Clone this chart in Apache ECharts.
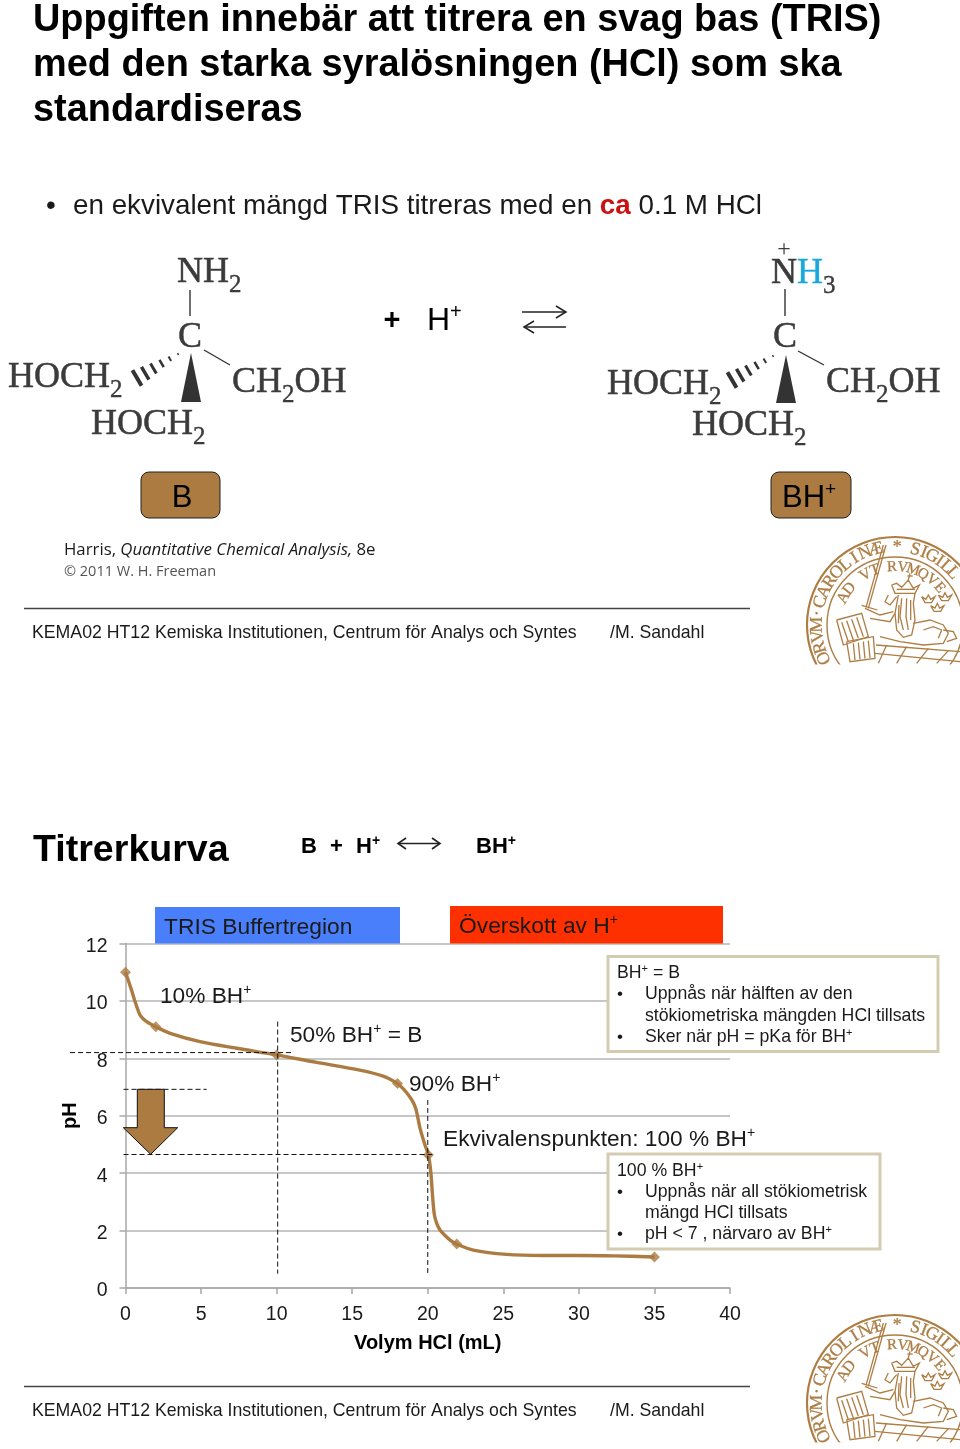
<!DOCTYPE html>
<html>
<head>
<meta charset="utf-8">
<style>
  html, body { margin: 0; padding: 0; background: #fff; }
  #chart { width: 960px; height: 1449px; }
</style>
<script src="https://cdn.jsdelivr.net/npm/echarts@6/dist/echarts.min.js"></script>
</head>
<body>
<div id="chart"></div>
<script>
// Points (mL, pH)
const curveVolume = [0, 0.36, 0.63, 0.8, 0.96, 1.15, 1.4, 1.65, 2, 3.06, 4.93, 7.36, 10, 12.64, 15.5, 17.05, 18, 18.4, 18.72, 19.0, 19.2, 19.35, 19.49, 19.78, 20.04, 20.2, 20.33, 20.44, 20.6, 20.81, 21.2, 21.5, 21.92, 23.02, 25.2, 27.6, 30, 32.3, 35];
const curvePh = [11, 10.44, 9.98, 9.72, 9.51, 9.39, 9.28, 9.2, 9.1, 8.85, 8.58, 8.35, 8.12, 7.86, 7.59, 7.38, 7.12, 6.93, 6.72, 6.5, 6.26, 5.92, 5.56, 5.04, 4.63, 4.05, 3.13, 2.54, 2.24, 2.02, 1.8, 1.66, 1.53, 1.32, 1.17, 1.13, 1.13, 1.12, 1.08];
const markerVolume = [0, 2, 10, 18, 20.04, 21.92, 35];
const markerPh = [11, 9.1, 8.12, 7.12, 4.63, 1.53, 1.08];

// Dashed helper lines, as [volume, pH] pairs
const guidePh8 = [[-3.67, 8.2], [11, 8.2]];
const guidePh7 = [[-0.13, 6.92], [5.37, 6.92]];
const guidePh46 = [[-0.13, 4.65], [20.3, 4.65]];
const guideV10 = [[10.07, 9.28], [10.07, 0.5]];
const guideV20 = [[20, 6.55], [20, 0.5]];

const TEXT = "#1a1a1a";
const BROWN = "#ab7b41";
const SEAL = "#ad7d43";
const SANS = "Liberation Sans";
const SERIF = "Liberation Serif";

const zip = (xs, ys) => xs.map((x, i) => [x, ys[i]]);

function txt(x, y, text, size, opts = {}) {
	const family = opts.family || SANS;
	const weight = opts.weight || "normal";
	const lineHeight = opts.lineHeight || Math.round(size * 1.15);
	return {
		type: "text", x, y: y + size * 0.07, z: 20, silent: true, rotation: opts.rotation || 0,
		style: {
			text, fill: opts.color || TEXT,
			stroke: opts.stroke || null, lineWidth: opts.stroke ? 0.5 : 0,
			fontSize: size, fontFamily: family, fontWeight: weight, fontStyle: opts.italic ? "italic" : "normal",
			lineHeight,
			align: opts.align || "left", verticalAlign: "middle",
			rich: Object.assign({
				sup: { fontSize: Math.round(size * 0.62), fontFamily: family, fontWeight: weight, fill: opts.color || TEXT, verticalAlign: "top", lineHeight },
			}, opts.rich || {}),
		},
	};
}

function line(x1, y1, x2, y2, color, width) {
	return { type: "line", z: 15, silent: true, shape: { x1, y1, x2, y2 }, style: { stroke: color, lineWidth: width } };
}

function poly(points, fill, stroke, width) {
	return { type: "polygon", z: 15, silent: true, shape: { points }, style: { fill, stroke: stroke || null, lineWidth: width || 0 } };
}

function pline(points, color, width) {
	return { type: "polyline", z: 15, silent: true, shape: { points }, style: { stroke: color, fill: null, lineWidth: width } };
}

function box(x, y, w, h, fill, stroke, width, r) {
	return { type: "rect", z: 12, silent: true, shape: { x, y, width: w, height: h, r: r || 0 }, style: { fill, stroke: stroke || null, lineWidth: width || 0 } };
}

// Chemistry labels: serif dark grey with subscripts
function chem(x, y, text, extraRich) {
	return txt(x, y, text, 36, {
		family: SERIF, color: "#3b3b3b", stroke: "#3b3b3b", lineHeight: 50,
		rich: Object.assign({
			sub: { fontSize: 25, fontFamily: SERIF, fill: "#3b3b3b", stroke: "#3b3b3b", lineWidth: 0.4, verticalAlign: "bottom", lineHeight: 50 },
		}, extraRich || {}),
	});
}

function hashedWedge(x1, y1, x2, y2) {
	const out = [];
	const n = 6;
	const len = Math.hypot(x2 - x1, y2 - y1);
	const nx = -(y2 - y1) / len;
	const ny = (x2 - x1) / len;
	for (let i = 0; i < n; i++) {
		const t = i / (n - 1);
		const cx = x1 + (x2 - x1) * t;
		const cy = y1 + (y2 - y1) * t;
		const h = 1 + t * 8;
		out.push(line(cx - nx * h, cy - ny * h, cx + nx * h, cy + ny * h, "#333", 1.5 + t * 2.5));
	}
	return out;
}

// Seal outlines, traced in a 3x crop of the first seal (origin 800,530)
const sealTraces = [
	[[258, 45], [205, 235]], [[250, 45], [198, 232]],
	[[185, 226], [232, 240]],
	[[275, 165], [285, 190], [345, 190], [358, 165], [340, 175], [325, 150], [305, 172], [290, 160], [275, 165]],
	[[325, 150], [330, 130]], [[322, 138], [338, 138]],
	[[290, 178], [345, 178]],
	[[265, 195], [255, 215], [270, 225], [290, 200]],
	[[295, 195], [285, 250], [290, 300], [310, 322], [335, 315], [345, 270], [340, 220], [345, 190]],
	[[305, 205], [300, 260], [310, 300]], [[320, 205], [318, 260], [325, 300]], [[332, 210], [332, 270]], [[297, 225], [295, 280]],
	[[340, 280], [390, 270], [430, 285], [445, 310], [430, 340], [370, 345], [300, 335], [240, 320]],
	[[370, 300], [400, 290], [425, 300], [415, 325]],
	[[430, 300], [460, 305], [470, 325], [440, 335]],
	[[195, 235], [240, 255], [280, 245]], [[210, 265], [270, 275], [285, 250]],
	[[110, 270], [185, 250], [205, 320], [130, 345], [110, 270]],
	[[125, 277], [145, 335]], [[140, 272], [160, 330]], [[155, 268], [175, 325]], [[170, 262], [190, 320]],
	[[140, 335], [220, 320], [225, 385], [150, 395], [140, 335]],
	[[160, 340], [165, 390]], [[175, 338], [180, 388]], [[190, 335], [195, 386]], [[205, 332], [210, 384]],
	[[228, 345], [480, 365]], [[225, 370], [480, 395]], [[260, 345], [235, 400]], [[320, 350], [290, 400]], [[385, 355], [350, 400]], [[445, 362], [410, 400]],
	[[365, 200], [375, 218], [395, 218], [405, 200], [392, 208], [385, 195], [378, 208], [365, 200]],
	[[415, 195], [425, 212], [445, 212], [455, 195], [442, 202], [435, 188], [428, 202], [415, 195]],
	[[392, 227], [402, 244], [422, 244], [432, 227], [419, 234], [412, 220], [405, 234], [392, 227]],
];

function seal(dy) {
	const cx = 895, cy = 625 + dy;
	const out = [];
	[[88, 2.2], [68, 1.4]].forEach(([r, w]) => {
		out.push({ type: "circle", z: 10, silent: true, shape: { cx, cy, r }, style: { fill: "rgba(0,0,0,0)", stroke: SEAL, lineWidth: w } });
	});
	const ring = (chars, start, step, r, size) => {
		Array.from(chars).forEach((c, i) => {
			const a = (start + step * i) * Math.PI / 180;
			out.push({
				type: "text", z: 10, silent: true,
				x: cx + r * Math.sin(a), y: cy - r * Math.cos(a), rotation: -a,
				style: { text: c, fill: SEAL, stroke: SEAL, lineWidth: 0.3, fontSize: size, fontFamily: SERIF, align: "center", verticalAlign: "middle" },
			});
		});
	};
	ring("ORVM·CAROLINÆ", -115, 8.4, 78, 18);
	ring("*", 1.5, 0, 78, 18);
	ring("SIGILL", 15, 6.6, 78, 18);
	ring("AD VT", -62, 10.5, 58, 16);
	ring("RVMQVE", -3, 10.6, 58, 15);
	sealTraces.forEach((t) => {
		const points = t.map(([x, y]) => [800 + x / 3, 530 + dy + y / 3]);
		out.push(Object.assign(pline(points, SEAL, 1.3), { z: 10 }));
	});
	out.push(Object.assign(box(800, 664.5 + dy, 160, 60, "#fff"), { z: 11 }));
	return out;
}

const elements = [
	// header
	txt(33, 18, "Uppgiften innebär att titrera en svag bas (TRIS)", 37.9, { weight: "bold", color: "#000" }),
	txt(33, 63, "med den starka syralösningen (HCl) som ska", 37.9, { weight: "bold", color: "#000" }),
	txt(33, 108, "standardiseras", 37.9, { weight: "bold", color: "#000" }),
	txt(46, 204, "•", 28),
	txt(73, 204, "en ekvivalent mängd TRIS titreras med en {r|ca} 0.1 M HCl", 27.8, {
		rich: { r: { fontSize: 27.8, fontFamily: SANS, fontWeight: "bold", fill: "#cc1111" } },
	}),

	// left structure (B)
	chem(177, 270, "NH{sub|2}"),
	line(190, 290, 190, 316, "#333", 1.4),
	txt(190, 335, "C", 36, { family: SERIF, color: "#3b3b3b", stroke: "#3b3b3b", align: "center" }),
	chem(8, 375, "HOCH{sub|2}"),
	...hashedWedge(178, 354, 137, 378),
	poly([[191, 353], [181, 402], [201, 402]], "#333"),
	line(204, 350, 230, 365, "#333", 1.4),
	chem(232, 380, "CH{sub|2}OH"),
	chem(91, 422, "HOCH{sub|2}"),

	// reaction
	txt(392, 319, "+", 29, { align: "center", color: "#000", weight: "bold" }),
	txt(427, 319, "H{sup|+}", 32, { color: "#000" }),
	line(522, 312, 566, 312, "#222", 1.5),
	pline([[556, 306], [566, 312], [556, 318]], "#222", 1.5),
	line(524, 327, 566, 327, "#222", 1.5),
	pline([[534, 321], [524, 327], [534, 333]], "#222", 1.5),

	// right structure (BH+)
	txt(784, 248, "+", 24, { family: SERIF, color: "#3b3b3b", align: "center" }),
	chem(771, 271, "N{b|H}{sub|3}", { b: { fontSize: 36, fontFamily: SERIF, fill: "#1aa7dc", stroke: "#1aa7dc", lineWidth: 0.4 } }),
	line(785, 289, 785, 316, "#333", 1.4),
	txt(785, 335, "C", 36, { family: SERIF, color: "#3b3b3b", stroke: "#3b3b3b", align: "center" }),
	chem(607, 382, "HOCH{sub|2}"),
	...hashedWedge(773, 356, 732, 380),
	poly([[786, 355], [776, 403], [796, 403]], "#333"),
	line(798, 351, 824, 365, "#333", 1.4),
	chem(826, 380, "CH{sub|2}OH"),
	chem(692, 423, "HOCH{sub|2}"),

	// B / BH+ badges
	box(141, 472, 79, 46, BROWN, "#222", 1, 8),
	txt(182, 496, "B", 31, { align: "center", color: "#000" }),
	box(771, 472, 80, 46, BROWN, "#222", 1, 8),
	txt(782, 496, "BH{sup|+}", 31, { color: "#000" }),

	txt(64, 549, "Harris, {i|Quantitative Chemical Analysis,} 8e", 16.8, {
		family: "Open Sans",
		rich: { i: { fontSize: 16.8, fontFamily: "Open Sans", fontStyle: "italic", fill: TEXT } },
	}),
	txt(64, 571, "© 2011 W. H. Freeman", 14.5, { family: "Open Sans", color: "#555" }),

	line(24, 608.5, 750, 608.5, "#444", 1.5),
	txt(32, 632, "KEMA02 HT12 Kemiska Institutionen, Centrum för Analys och Syntes", 17.7),
	txt(610, 632, "/M. Sandahl", 17.7),
	...seal(0),

	// second slide heading
	txt(33, 848, "Titrerkurva", 37.6, { weight: "bold", color: "#000" }),
	txt(301, 845, "B", 22, { weight: "bold", color: "#000" }),
	txt(330, 845, "+", 22, { weight: "bold", color: "#000" }),
	txt(356, 845, "H{sup|+}", 22, { weight: "bold", color: "#000" }),
	line(398, 843.5, 440, 843.5, "#222", 1.5),
	pline([[406, 838], [398, 843.5], [406, 849]], "#222", 1.6),
	pline([[432, 838], [440, 843.5], [432, 849]], "#222", 1.6),
	txt(476, 845, "BH{sup|+}", 22, { weight: "bold", color: "#000" }),

	// region banners
	box(155, 907, 245, 36.5, "#4a7ffb"),
	txt(164, 926, "TRIS Buffertregion", 22.8),
	box(450, 906, 273, 37.5, "#ff3000"),
	txt(459, 925, "Överskott av H{sup|+}", 22.8),

	// curve annotations
	txt(160, 995, "10% BH{sup|+}", 22.7),
	txt(290, 1034, "50% BH{sup|+} = B", 22.7),
	txt(409, 1083, "90% BH{sup|+}", 22.7),
	txt(443, 1138, "Ekvivalenspunkten: 100 % BH{sup|+}", 22.7),

	// down arrow
	poly([[137.3, 1089.3], [164.3, 1089.3], [164.3, 1127.7], [177.7, 1127.7], [150.7, 1154.3], [123.3, 1127.7], [137.3, 1127.7]], BROWN, "#111", 1),

	// callouts
	box(608, 956.5, 330, 95, "#fff", "#d3ccb0", 3),
	txt(617, 972, "BH{sup|+} = B", 17.7),
	txt(617, 993, "•", 17),
	txt(645, 993, "Uppnås när hälften av den", 17.7),
	txt(645, 1014.5, "stökiometriska mängden HCl tillsats", 17.7),
	txt(617, 1036, "•", 17),
	txt(645, 1036, "Sker när pH = pKa för BH{sup|+}", 17.7),

	box(608, 1154, 272, 95, "#fff", "#d3ccb0", 3),
	txt(617, 1170, "100 % BH{sup|+}", 17.7),
	txt(617, 1191, "•", 17),
	txt(645, 1191, "Uppnås när all stökiometrisk", 17.7),
	txt(645, 1212, "mängd HCl tillsats", 17.7),
	txt(617, 1233, "•", 17),
	txt(645, 1233, "pH < 7 , närvaro av BH{sup|+}", 17.7),

	// second footer
	line(24, 1386.5, 750, 1386.5, "#444", 1.5),
	txt(32, 1410, "KEMA02 HT12 Kemiska Institutionen, Centrum för Analys och Syntes", 17.7),
	txt(610, 1410, "/M. Sandahl", 17.7),
	...seal(778),
];

const chart = echarts.init(document.getElementById("chart"), null, { renderer: "canvas" });
const axisLabel = { color: TEXT, fontSize: 19.5, fontFamily: SANS };
const axisGrey = "#a8a8a8";

chart.setOption({
	animation: false,
	backgroundColor: "#fff",
	grid: { left: 125.5, top: 943.5, width: 604.5, height: 344.5, containLabel: false },
	xAxis: {
		type: "value", min: 0, max: 40, interval: 5,
		name: "Volym HCl (mL)", nameLocation: "middle", nameGap: 45,
		nameTextStyle: { color: "#000", fontSize: 20, fontWeight: "bold", fontFamily: SANS },
		axisLine: { show: true, onZero: false, lineStyle: { color: axisGrey, width: 1.5 } },
		axisTick: { show: true, length: 6, lineStyle: { color: axisGrey, width: 1.5 } },
		axisLabel: Object.assign({ margin: 17 }, axisLabel),
		splitLine: { show: false },
	},
	yAxis: {
		type: "value", min: 0, max: 12, interval: 2,
		name: "pH", nameLocation: "middle", nameGap: 45, nameRotate: 90, nameMoveOverlap: false,
		nameTextStyle: { color: "#000", fontSize: 20, fontWeight: "bold", fontFamily: SANS },
		axisLine: { show: true, onZero: false, lineStyle: { color: axisGrey, width: 1.5 } },
		axisTick: { show: true, length: 6, lineStyle: { color: axisGrey, width: 1.5 } },
		axisLabel: Object.assign({
			margin: 18, formatter: "{n|{value}}",
			rich: { n: { color: TEXT, fontSize: 19.5, fontFamily: SANS, padding: [6, 0, 0, 0] } },
		}, axisLabel),
		splitLine: { show: true, lineStyle: { color: "#b5b5b5", width: 1.5 } },
	},
	series: [
		{
			name: "Titrerkurva", type: "line", data: zip(curveVolume, curvePh),
			smooth: 0.3, symbol: "none", clip: false, z: 3,
			lineStyle: { color: BROWN, width: 3.4 },
		},
		{
			name: "Mätpunkter", type: "scatter", data: zip(markerVolume, markerPh),
			symbol: "diamond", symbolSize: 11, clip: false, z: 4,
			itemStyle: { color: BROWN },
		},
	],
	graphic: { elements },
});

// Dashed guides run past the axis, so they go through the axis scale by hand
const guides = [guidePh8, guidePh7, guidePh46, guideV10, guideV20].map((g) => {
	const [a, b] = g.map((p) => chart.convertToPixel({ gridIndex: 0 }, p));
	return {
		type: "line", z: 9, silent: true,
		shape: { x1: a[0], y1: a[1], x2: b[0], y2: b[1] },
		style: { stroke: "#111", lineWidth: 1, lineDash: [5, 3] },
	};
});
chart.setOption({ graphic: { elements: elements.concat(guides) } });
</script>
</body>
</html>
